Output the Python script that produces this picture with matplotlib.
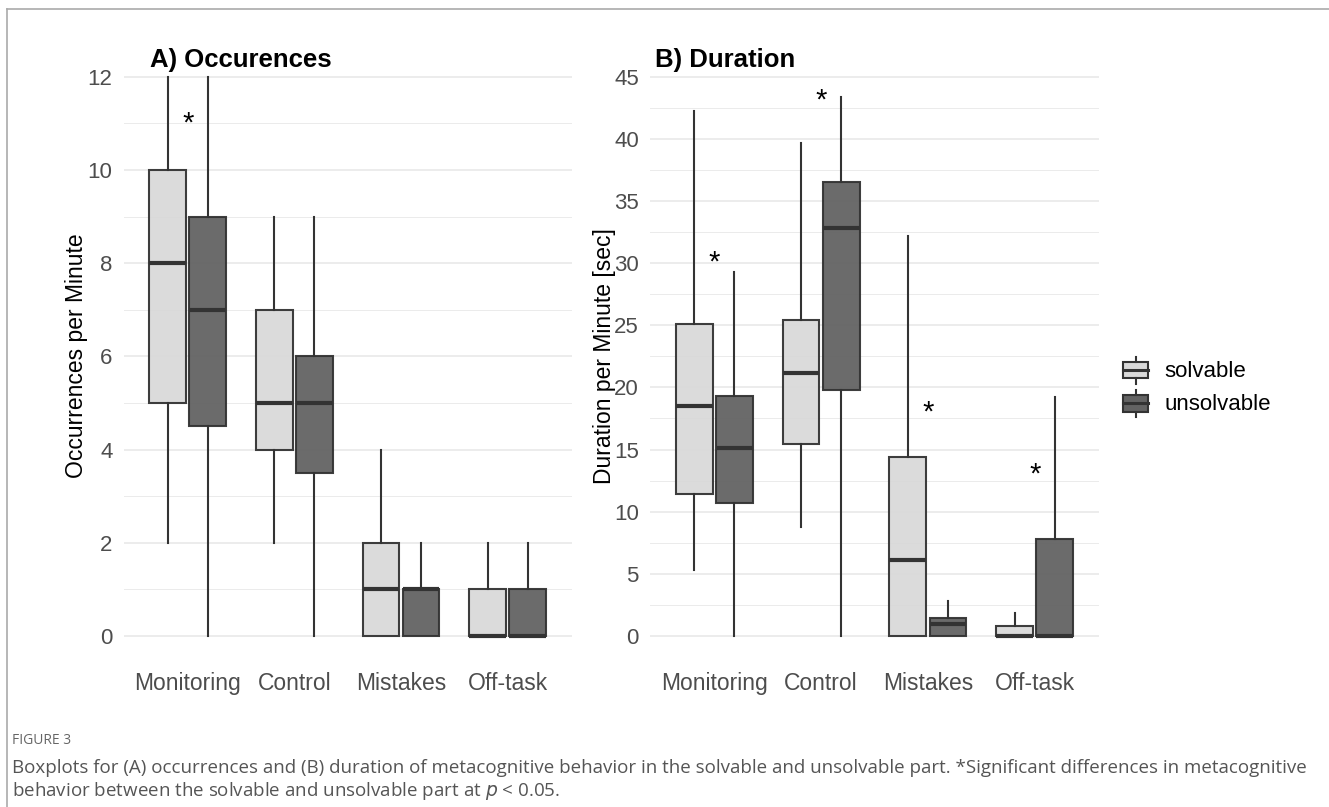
import matplotlib
matplotlib.use("Agg")
import matplotlib.pyplot as plt
from matplotlib.lines import Line2D
from matplotlib.patches import Rectangle

# ---------------- data ----------------
categories = ["Monitoring", "Control", "Mistakes", "Off-task"]
groups = ["solvable", "unsolvable"]

# Panel A: occurrences per minute  (whislo, q1, median, q3, whishi)
occ_solv_lo = [2, 2, 0, 0]
occ_solv_q1 = [5, 4, 0, 0]
occ_solv_med = [8, 5, 1, 0]
occ_solv_q3 = [10, 7, 2, 1]
occ_solv_hi = [12, 9, 4, 2]

occ_uns_lo = [0, 0, 0, 0]
occ_uns_q1 = [4.5, 3.5, 0, 0]
occ_uns_med = [7, 5, 1, 0]
occ_uns_q3 = [9, 6, 1, 1]
occ_uns_hi = [12, 9, 2, 2]

# Panel B: duration per minute [sec]
dur_solv_lo = [5.3, 8.8, 0, 0]
dur_solv_q1 = [11.4, 15.45, 0, 0]
dur_solv_med = [18.5, 21.15, 6.1, 0]
dur_solv_q3 = [25.1, 25.4, 14.4, 0.83]
dur_solv_hi = [42.2, 39.65, 32.2, 1.88]

dur_uns_lo = [0, 0, 0, 0]
dur_uns_q1 = [10.7, 19.8, 0, 0]
dur_uns_med = [15.1, 32.8, 0.97, 0]
dur_uns_q3 = [19.27, 36.5, 1.48, 7.8]
dur_uns_hi = [29.25, 43.4, 2.8, 19.2]

# significance markers (category index, y value)
occ_sig_x = [0]
occ_sig_y = [11.1]
dur_sig_x = [0, 1, 2, 3]
dur_sig_y = [30.5, 43.5, 18.4, 13.4]

# --------------- style ----------------
W, H = 1329, 807
DPI = 100
light = "#d9d9d9"
dark = "#636363"
edge = "#333333"
grid_c = "#ebebeb"
tick_c = "#4d4d4d"
FONT = ["Liberation Sans", "DejaVu Sans"]
plt.rcParams["font.family"] = FONT

fig = plt.figure(figsize=(W / DPI, H / DPI), dpi=DPI)


def px_rect(x0, x1, y_top, y_bot):
    return [x0 / W, 1 - y_bot / H, (x1 - x0) / W, (y_bot - y_top) / H]


def make_stats(lo, q1, med, q3, hi):
    return [dict(whislo=a, q1=b, med=c, q3=d, whishi=e, fliers=[])
            for a, b, c, d, e in zip(lo, q1, med, q3, hi)]


def draw_panel(ax, solv, uns, ymax, major, minor, sig_x, sig_y):
    ax.set_xlim(-0.6, 3.6)
    pad = ymax * 0.025
    ax.set_ylim(-pad, ymax + pad)
    ax.set_yticks(major)
    ax.set_yticks(minor, minor=True)
    ax.grid(axis="y", which="major", color=grid_c, lw=1.3, zorder=0)
    ax.grid(axis="y", which="minor", color=grid_c, lw=0.7, zorder=0)
    ax.set_axisbelow(True)
    for s in ax.spines.values():
        s.set_visible(False)
    off = 0.1875
    w = 0.345
    pos = list(range(len(categories)))
    for stats, shift, fc in ((solv, -off, light), (uns, off, dark)):
        ax.bxp(stats, positions=[p + shift for p in pos], widths=w,
               patch_artist=True, showcaps=False, showfliers=False,
               boxprops=dict(facecolor=fc, edgecolor=edge, linewidth=1.5, alpha=0.95),
               medianprops=dict(color=edge, linewidth=3.0, solid_capstyle="butt"),
               whiskerprops=dict(color=edge, linewidth=1.5),
               manage_ticks=False, zorder=3)
    ax.set_xticks(pos)
    ax.set_xticklabels(categories, fontsize=16.5, color=tick_c)
    ax.tick_params(axis="x", length=0, pad=16)
    ax.tick_params(axis="y", which="both", length=0, pad=8, labelsize=16,
                   labelcolor=tick_c)
    for x, y in zip(sig_x, sig_y):
        ax.annotate("*", xy=(x, y), xytext=(0, -9.5), textcoords="offset points",
                    ha="center", va="baseline", fontsize=21, color="black",
                    zorder=5)


axA = fig.add_axes(px_rect(123.7, 571.5, 62.7, 650))
draw_panel(axA,
           make_stats(occ_solv_lo, occ_solv_q1, occ_solv_med, occ_solv_q3, occ_solv_hi),
           make_stats(occ_uns_lo, occ_uns_q1, occ_uns_med, occ_uns_q3, occ_uns_hi),
           12, list(range(0, 13, 2)), list(range(1, 12, 2)), occ_sig_x, occ_sig_y)

axB = fig.add_axes(px_rect(650, 1099, 62.7, 650))
draw_panel(axB,
           make_stats(dur_solv_lo, dur_solv_q1, dur_solv_med, dur_solv_q3, dur_solv_hi),
           make_stats(dur_uns_lo, dur_uns_q1, dur_uns_med, dur_uns_q3, dur_uns_hi),
           45, list(range(0, 46, 5)), [2.5 + 5 * i for i in range(9)], dur_sig_x, dur_sig_y)

# titles and axis labels
fig.text(150 / W, 1 - 67 / H, "A) Occurences", fontsize=18.5, fontweight="bold",
         ha="left", va="baseline")
fig.text(655 / W, 1 - 67 / H, "B) Duration", fontsize=18.5, fontweight="bold",
         ha="left", va="baseline")
fig.text(77 / W, 1 - 356 / H, "Occurrences per Minute", rotation=90, fontsize=16.5,
         ha="center", va="center")
fig.text(604 / W, 1 - 356 / H, "Duration per Minute [sec]", rotation=90, fontsize=16.5,
         ha="center", va="center")

# legend drawn in its own axes (pixel coordinates)
leg = fig.add_axes([0, 0, 1, 1], facecolor="none")
leg.set_xlim(0, W)
leg.set_ylim(H, 0)
leg.axis("off")
for (label, fc), cy in zip(zip(groups, (light, dark)), (370, 403.3)):
    leg.add_patch(Rectangle((1122.7, cy - 8.3), 25.6, 16.6, facecolor=fc,
                            edgecolor=edge, lw=1.5))
    leg.plot([1122.7, 1148.3], [cy, cy], color=edge, lw=2.2)
    leg.plot([1135.5, 1135.5], [cy - 13.5, cy - 8.3], color=edge, lw=1.5)
    leg.plot([1135.5, 1135.5], [cy + 8.3, cy + 13.5], color=edge, lw=1.5)
    leg.text(1164, cy + 1.5, label, fontsize=16, ha="left", va="center", color="black")

# frame lines of the figure panel
leg.add_line(Line2D([7, W], [9, 9], color="#aaaaaa", lw=1.2))
leg.add_line(Line2D([7, 7], [9, H], color="#aaaaaa", lw=1.2))

# caption
cap_font = ["Liberation Sans Narrow", "Open Sans", "DejaVu Sans"]
fig.text(12 / W, 1 - 740 / H, "FIGURE 3", fontsize=10, color="#666666",
         ha="left", va="center", family=cap_font)
fig.text(12 / W, 1 - 768 / H,
         "Boxplots for (A) occurrences and (B) duration of metacognitive behavior in the "
         "solvable and unsolvable part. *Significant differences in metacognitive",
         fontsize=13.5, color="#555555", ha="left", va="center", family=cap_font)
fig.text(12 / W, 1 - 791 / H,
         "behavior between the solvable and unsolvable part at $\\it{p}$ < 0.05.",
         fontsize=13.5, color="#555555", ha="left", va="center", family=cap_font)

fig.savefig("out.png", dpi=DPI)
